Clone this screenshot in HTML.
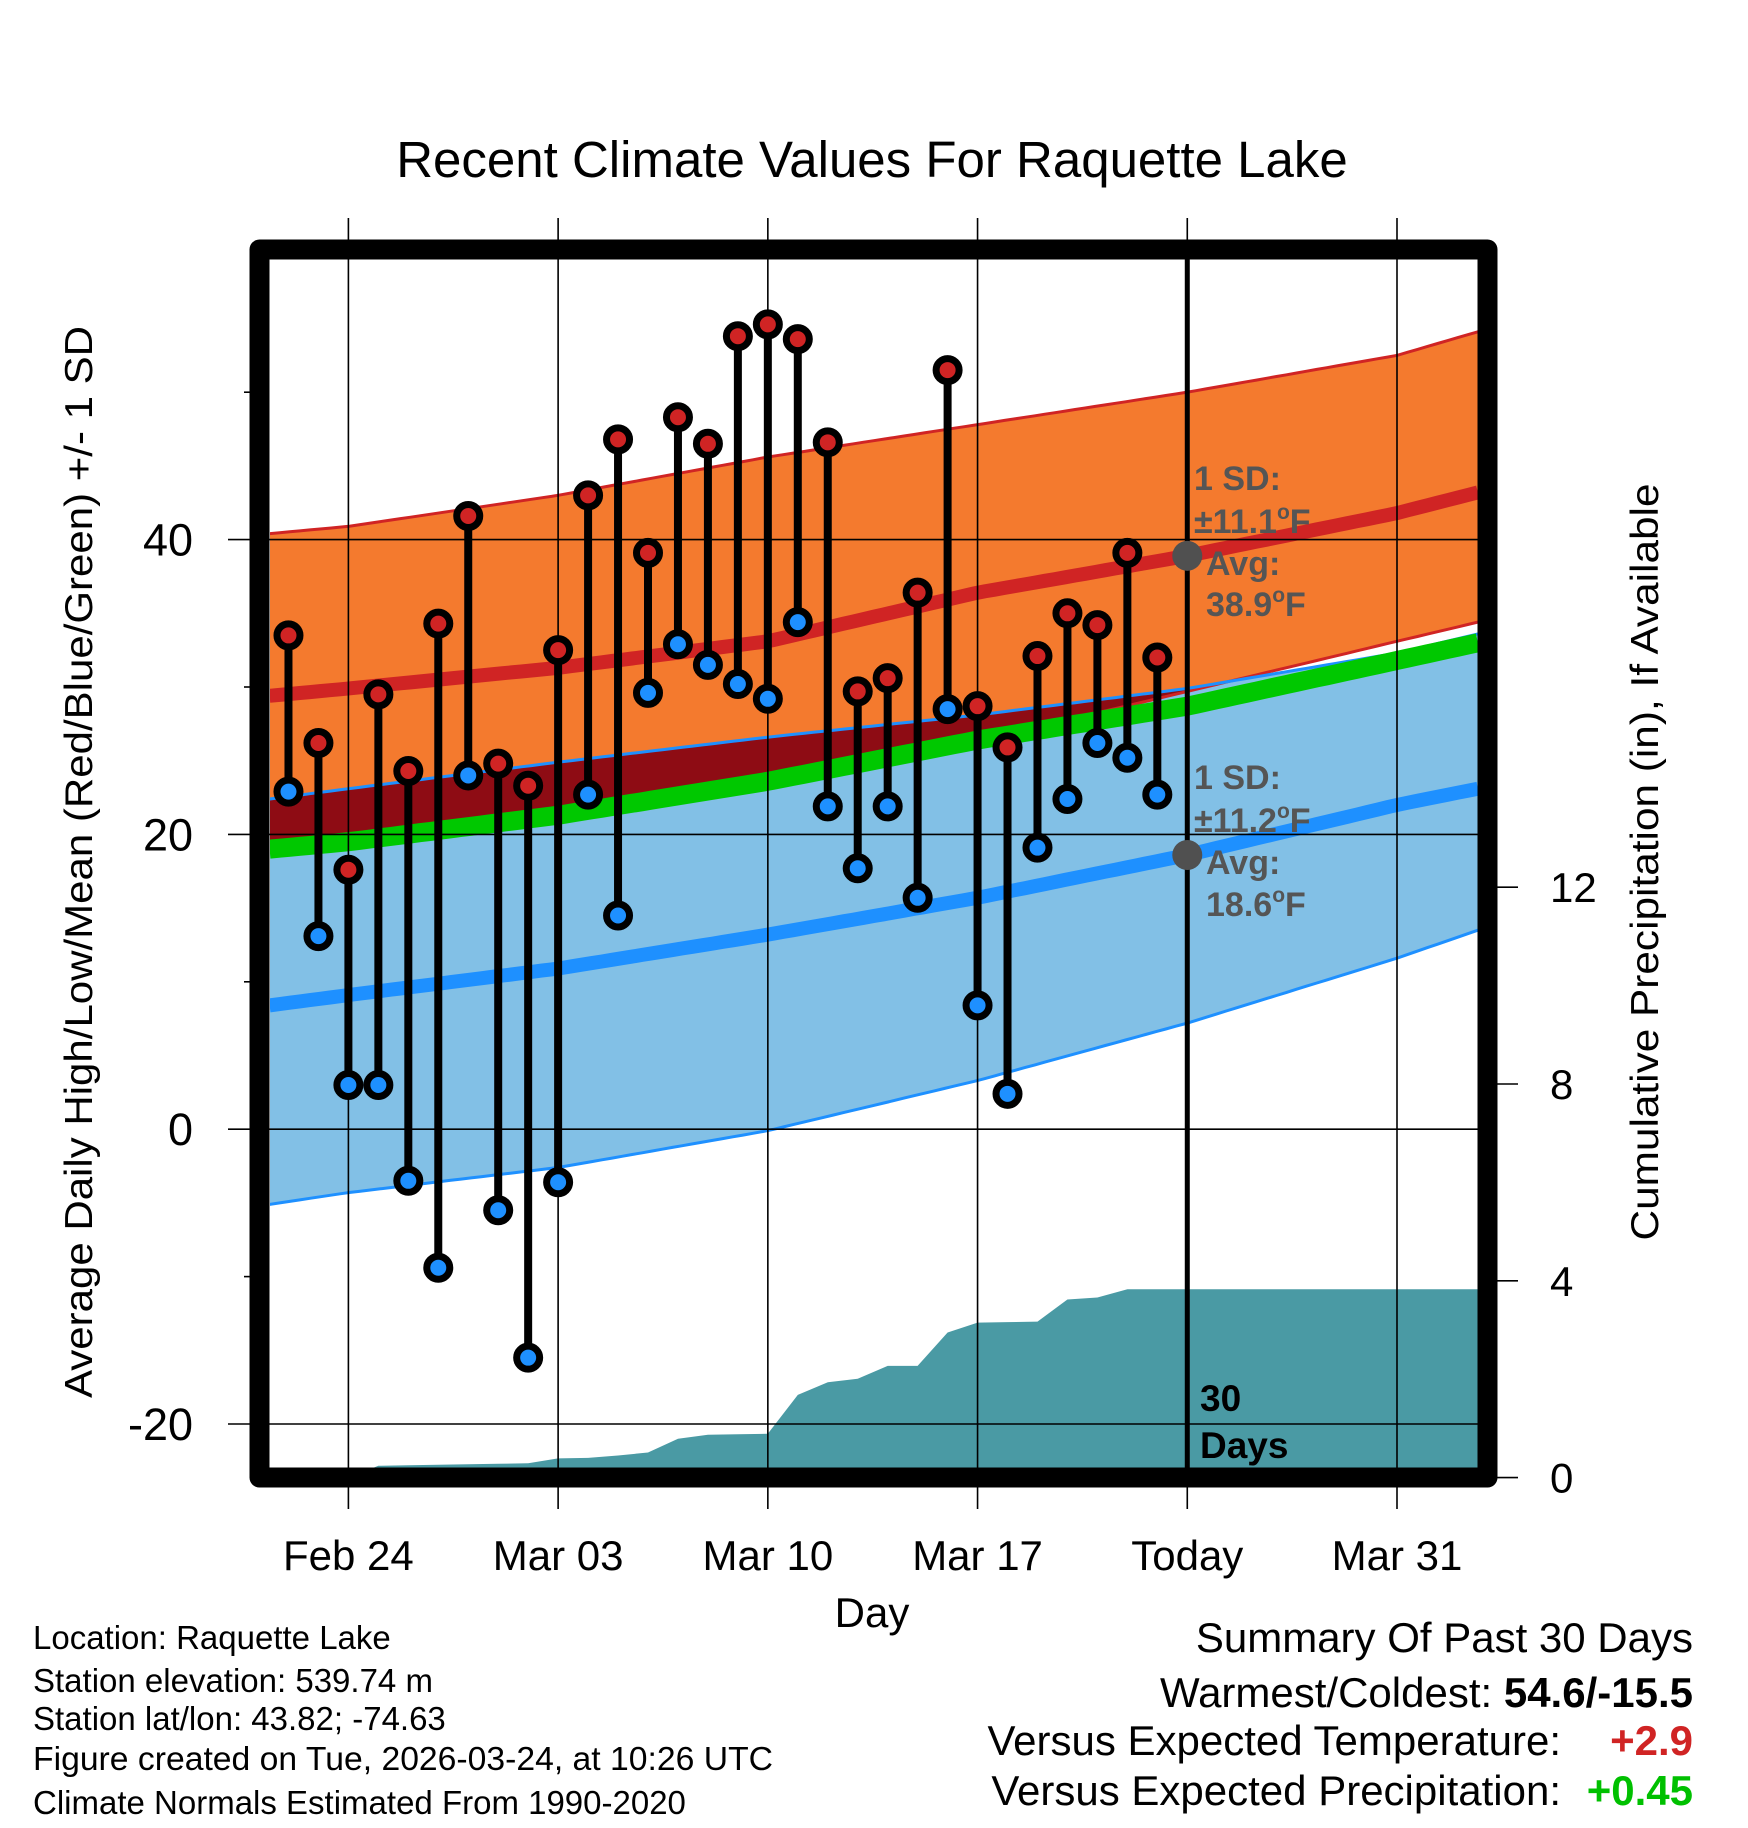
<!DOCTYPE html>
<html><head><meta charset="utf-8"><title>Recent Climate Values For Raquette Lake</title>
<style>
html,body{margin:0;padding:0;background:#fff;}
svg{display:block;font-family:"Liberation Sans",Arial,sans-serif;}
</style></head>
<body>
<svg id="chart" xmlns="http://www.w3.org/2000/svg" width="1748" height="1828" viewBox="0 0 1748 1828">
<text x="872" y="177" font-size="51" text-anchor="middle">Recent Climate Values For Raquette Lake</text>
<defs><clipPath id="plotclip"><rect x="270" y="259" width="1208" height="1209"/></clipPath></defs>
<g id="bands" clip-path="url(#plotclip)"></g>
<g id="axes"></g>
<g id="marks"></g>
<g id="annot">
 <text fill="#555" font-weight="bold" font-size="34">
  <tspan x="1194" y="490">1 SD:</tspan>
  <tspan x="1194" y="533">±11.1<tspan font-size="21" dy="-14">o</tspan><tspan dy="14">F</tspan></tspan>
  <tspan x="1206" y="575">Avg:</tspan>
  <tspan x="1206" y="616">38.9<tspan font-size="21" dy="-14">o</tspan><tspan dy="14">F</tspan></tspan>
 </text>
 <text fill="#555" font-weight="bold" font-size="34">
  <tspan x="1194" y="789">1 SD:</tspan>
  <tspan x="1194" y="832">±11.2<tspan font-size="21" dy="-14">o</tspan><tspan dy="14">F</tspan></tspan>
  <tspan x="1206" y="874">Avg:</tspan>
  <tspan x="1206" y="916">18.6<tspan font-size="21" dy="-14">o</tspan><tspan dy="14">F</tspan></tspan>
 </text>
 <text font-weight="bold" font-size="37" fill="#000">
  <tspan x="1200" y="1411">30</tspan><tspan x="1200" y="1458">Days</tspan>
 </text>
</g>
<rect x="259.5" y="249.5" width="1228" height="1228" fill="none" stroke="#000" stroke-width="20" stroke-linejoin="round"/>
<text transform="translate(92,862) rotate(-90)" font-size="39" text-anchor="middle" textLength="1072" lengthAdjust="spacingAndGlyphs">Average Daily High/Low/Mean (Red/Blue/Green) +/- 1 SD</text>
<text transform="translate(1658,862) rotate(-90)" font-size="39" text-anchor="middle" textLength="757" lengthAdjust="spacingAndGlyphs">Cumulative Precipitation (in), If Available</text>
<text x="872" y="1627" font-size="42" text-anchor="middle">Day</text>
<g font-size="33">
 <text x="33" y="1649">Location: Raquette Lake</text>
 <text x="33" y="1692">Station elevation: 539.74 m</text>
 <text x="33" y="1730">Station lat/lon: 43.82; -74.63</text>
 <text x="33" y="1770" textLength="740" lengthAdjust="spacingAndGlyphs">Figure created on Tue, 2026-03-24, at 10:26 UTC</text>
 <text x="33" y="1814">Climate Normals Estimated From 1990-2020</text>
</g>
<g font-size="42">
 <text x="1693" y="1652" text-anchor="end">Summary Of Past 30 Days</text>
 <text x="1693" y="1707" text-anchor="end">Warmest/Coldest: <tspan font-weight="bold">54.6/-15.5</tspan></text>
 <text x="1561" y="1755" text-anchor="end">Versus Expected Temperature:</text>
 <text x="1693" y="1755" text-anchor="end" font-weight="bold" fill="#d02424">+2.9</text>
 <text x="1561" y="1805" text-anchor="end">Versus Expected Precipitation:</text>
 <text x="1693" y="1805" text-anchor="end" font-weight="bold" fill="#00c000">+0.45</text>
</g>
</svg>
<script>
// ---- data ----
const obsDays = [-2,-1,0,1,2,3,4,5,6,7,8,9,10,11,12,13,14,15,16,17,18,19,20,21,22,23,24,25,26,27];
const highs = [33.5,26.2,17.6,29.5,24.3,34.3,41.6,24.8,23.3,32.5,43.0,46.8,39.1,48.3,46.5,53.8,54.6,53.6,46.6,29.7,30.6,36.4,51.5,28.7,25.9,32.1,35.0,34.2,39.1,32.0];
const lows = [22.9,13.1,3.0,3.0,-3.5,-9.4,24.0,-5.5,-15.5,-3.6,22.7,14.5,29.6,32.9,31.5,30.2,29.2,34.4,21.9,17.7,21.9,15.7,28.5,8.4,2.4,19.1,22.4,26.2,25.2,22.7];
const precipCum = [0,0,0,0.24,0.25,0.26,0.27,0.28,0.29,0.39,0.40,0.45,0.51,0.79,0.87,0.88,0.89,1.68,1.94,2.01,2.27,2.27,2.95,3.15,3.16,3.17,3.62,3.66,3.83,3.83];
const normDays = [-2.63,0,7,14,21,28,35,37.7];
const hiUp = [40.4,40.9,43.0,45.6,47.8,50.0,52.5,54.1];
const hiAvg = [29.4,29.9,31.3,33.1,36.4,38.9,41.8,43.2];
const hiLo = [18.8,19.3,21.1,23.4,26.3,29.7,33.1,34.4];
const loUp = [22.4,23.1,24.9,26.6,28.1,29.9,32.3,33.6];
const meanAvg = [19.0,19.5,21.3,23.6,26.4,28.7,31.8,33.0];
const loAvg = [8.4,9.1,10.9,13.2,15.7,18.6,22.0,23.1];
const loLo = [-5.1,-4.3,-2.6,-0.1,3.3,7.2,11.6,13.5];
const xTickDays = [0,7,14,21,28,35];
const xTickLabels = ["Feb 24","Mar 03","Mar 10","Mar 17","Today","Mar 31"];
const yTicks = [40,20,0,-20];
const yMinor = [50,30,10,-10];
const pTicks = [0,4,8,12];
const todayDay = 28;
const todayHi = 38.9, todayLo = 18.6;

// ---- scales ----
const X = d => 348.4 + 29.96*d;
const Y = v => 1129.2 - 14.74*v;
const PY = p => 1477.6 - 49.2*p;
const NS = "http://www.w3.org/2000/svg";
function mk(tag, attrs, parent){const e=document.createElementNS(NS,tag);for(const k in attrs)e.setAttribute(k,attrs[k]);parent.appendChild(e);return e;}
function interp(arr, d){
  for(let i=0;i<normDays.length-1;i++){
    if(d<=normDays[i+1]){const t=(d-normDays[i])/(normDays[i+1]-normDays[i]);return arr[i]+t*(arr[i+1]-arr[i]);}
  }
  return arr[arr.length-1];
}
const samples=[];const d0=normDays[0], d1=normDays[normDays.length-1];
for(let i=0;i<=120;i++) samples.push(d0+(d1-d0)*i/120);
const linePts = arr => samples.map(d=>X(d).toFixed(1)+","+Y(interp(arr,d)).toFixed(1)).join(" ");
const bandPts = (a,b) => samples.map(d=>X(d).toFixed(1)+","+Y(interp(a,d)).toFixed(1)).concat(samples.slice().reverse().map(d=>X(d).toFixed(1)+","+Y(interp(b,d)).toFixed(1))).join(" ");

const bands=document.getElementById('bands');
let e;
e=mk('polygon',{points:bandPts(hiUp,hiLo),fill:'#f47a2e'},bands);


e=mk('polygon',{points:bandPts(loUp,loLo),fill:'#82c0e6'},bands);


const ovTop = samples.map(d=>{const a=interp(loUp,d),b=interp(hiLo,d);return X(d).toFixed(1)+","+Y(Math.max(a,b)).toFixed(1);});
const ovBot = samples.slice().reverse().map(d=>X(d).toFixed(1)+","+Y(interp(hiLo,d)).toFixed(1));
e=mk('polygon',{points:ovTop.concat(ovBot).join(" "),fill:'#8e0c14'},bands);


e=mk('polyline',{points:linePts(hiUp),fill:'none',stroke:'#d02424','stroke-width':3},bands);


e=mk('polyline',{points:linePts(hiLo),fill:'none',stroke:'#d02424','stroke-width':3},bands);


e=mk('polyline',{points:linePts(loUp),fill:'none',stroke:'#1e90ff','stroke-width':3},bands);


e=mk('polyline',{points:linePts(loLo),fill:'none',stroke:'#1e90ff','stroke-width':3},bands);


let pp=[X(obsDays[0]).toFixed(1)+","+PY(0)];
obsDays.forEach((d,i)=>pp.push(X(d).toFixed(1)+","+PY(precipCum[i]).toFixed(1)));
pp.push(X(d1+1).toFixed(1)+","+PY(precipCum[precipCum.length-1]).toFixed(1));
pp.push(X(d1+1).toFixed(1)+","+PY(0));
e=mk('polygon',{points:pp.join(" "),fill:'#4a9aa4'},bands);


e=mk('polyline',{points:linePts(hiAvg),fill:'none',stroke:'#d02424','stroke-width':14},bands);


e=mk('polyline',{points:linePts(loAvg),fill:'none',stroke:'#1e90ff','stroke-width':14},bands);


e=mk('polyline',{points:linePts(meanAvg),fill:'none',stroke:'#00c800','stroke-width':19},bands);



const axes=document.getElementById('axes');
xTickDays.forEach((d,i)=>{
  let g=mk('line',{x1:X(d),x2:X(d),y1:218,y2:1509,stroke:'#000','stroke-width':1.6},axes);
  
  
  let t=mk('text',{x:X(d),y:1570,'font-size':42,'text-anchor':'middle'},axes);
  t.textContent=xTickLabels[i];
  
  
});
yTicks.forEach(v=>{
  let g=mk('line',{x1:228,x2:1478,y1:Y(v),y2:Y(v),stroke:'#000','stroke-width':1.6},axes);
  
  
  let t=mk('text',{x:193,y:Y(v)+16,'font-size':45,'text-anchor':'end'},axes);
  t.textContent=String(v);
  
  
});
yMinor.forEach(v=>{
  let g=mk('line',{x1:244,x2:252,y1:Y(v),y2:Y(v),stroke:'#000','stroke-width':1.6},axes);
  
  
});
pTicks.forEach(p=>{
  let g=mk('line',{x1:1495,x2:1518,y1:PY(p),y2:PY(p),stroke:'#000','stroke-width':1.6},axes);
  
  
  let t=mk('text',{x:1550,y:PY(p)+15,'font-size':42},axes);
  t.textContent=String(p);
  
  
});

const marks=document.getElementById('marks');
obsDays.forEach((d,i)=>{
  let s=mk('line',{x1:X(d),x2:X(d),y1:Y(highs[i]),y2:Y(lows[i]),stroke:'#000','stroke-width':8},marks);
  
  
});
obsDays.forEach((d,i)=>{
  let h=mk('circle',{cx:X(d),cy:Y(highs[i]),r:11.5,fill:'#d02424',stroke:'#000','stroke-width':7},marks);
  
  
  let l=mk('circle',{cx:X(d),cy:Y(lows[i]),r:11.5,fill:'#1e90ff',stroke:'#000','stroke-width':7},marks);
  
  
});
e=mk('line',{x1:X(todayDay),x2:X(todayDay),y1:259,y2:1468,stroke:'#000','stroke-width':5},marks);


e=mk('circle',{cx:X(todayDay),cy:Y(todayHi),r:15,fill:'#505050'},marks);


e=mk('circle',{cx:X(todayDay),cy:Y(todayLo),r:15,fill:'#505050'},marks);


</script>
</body></html>
